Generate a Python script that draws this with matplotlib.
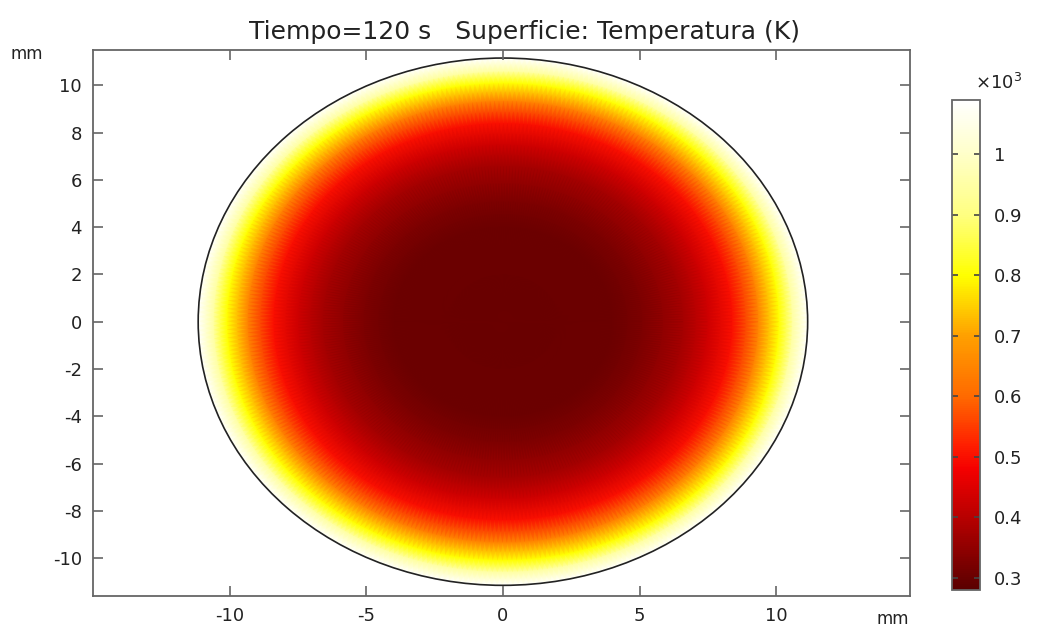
import numpy as np
import matplotlib
matplotlib.use("Agg")
import matplotlib.pyplot as plt
from matplotlib.colors import LinearSegmentedColormap
from matplotlib.patches import Circle
from matplotlib.ticker import FuncFormatter

plt.rcParams["axes.unicode_minus"] = False

# Datos: perfil radial de temperatura
radio_mm = [0.0, 4.0, 5.1, 6.6, 7.5, 8.4, 9.35, 10.1, 10.6, 11.15]
temp_K = [300, 305, 325, 375, 430, 500, 650, 800, 950, 1085]

x_ticks = [-10, -5, 0, 5, 10]
y_ticks = [-10, -8, -6, -4, -2, 0, 2, 4, 6, 8, 10]
cb_ticks = [300, 400, 500, 600, 700, 800, 900, 1000]

titulo = "Tiempo=120 s   Superficie: Temperatura (K)"

vmin, vmax = 280, 1090

# mapa de color tipo "heat"
nodos = [(280, "#5a0000"), (320, "#7a0000"), (400, "#b80000"), (480, "#f50000"),
         (520, "#ff2000"), (600, "#ff6a00"), (700, "#ffa000"), (800, "#ffff00"),
         (900, "#ffff80"), (1000, "#ffffc8"), (1090, "#ffffff")]
cmap = LinearSegmentedColormap.from_list(
    "calor", [((v - vmin) / (vmax - vmin), c) for v, c in nodos])

fig = plt.figure(figsize=(10.41, 6.30), dpi=100)
ax = fig.add_axes([0.0893, 0.054, 0.785, 0.867])

# malla polar
theta = np.linspace(0, 2 * np.pi, 361)
R, TH = np.meshgrid(radio_mm, theta)
C = np.tile(temp_K, (len(theta), 1))
mesh = ax.pcolormesh(R * np.cos(TH), R * np.sin(TH), C, cmap=cmap,
                     vmin=vmin, vmax=vmax, shading="gouraud")
ax.add_patch(Circle((0, 0), radio_mm[-1], fill=False, edgecolor="#222222", lw=1.2))

ax.set_xlim(-15.0, 14.9)
ax.set_ylim(-11.6, 11.5)
ax.set_xticks(x_ticks)
ax.set_yticks(y_ticks)
ax.tick_params(direction="in", length=7, width=1.2, color="#666666",
               top=True, right=True, labelsize=13, pad=8, labelcolor="#222222")
for s in ax.spines.values():
    s.set_color("#666666")
    s.set_linewidth(1.3)

ax.set_title(titulo, fontsize=18, color="#222222", pad=8, x=0.528)
fig.text(0.010, 0.906, "mm", fontsize=12, color="#222222")
fig.text(0.842, 0.010, "mm", fontsize=12, color="#222222")

# barra de color
cax = fig.add_axes([0.9145, 0.0635, 0.027, 0.778])
cb = fig.colorbar(mesh, cax=cax, ticks=cb_ticks)
cb.formatter = FuncFormatter(lambda v, p: f"{v / 1000:g}")
cb.update_ticks()
cb.outline.set_edgecolor("#666666")
cb.outline.set_linewidth(1.3)
cax.tick_params(direction="in", length=4, width=1.2, color="#444444",
                left=True, labelsize=13, pad=10, labelcolor="#222222")
fig.text(0.937, 0.858, r"$\times10^3$", fontsize=13, color="#222222")

fig.savefig("out.png", dpi=100)
